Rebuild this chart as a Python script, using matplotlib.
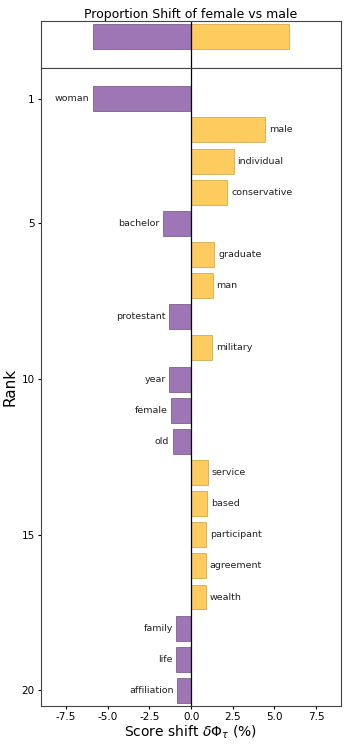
import matplotlib
matplotlib.use('Agg')
import matplotlib.pyplot as plt
import numpy as np

plt.rcParams['axes.unicode_minus'] = False

# words ranked by score shift (negative = female, positive = male)
words = ['woman', 'male', 'individual', 'conservative', 'bachelor', 'graduate', 'man',
         'protestant', 'military', 'year', 'female', 'old', 'service', 'based',
         'participant', 'agreement', 'wealth', 'family', 'life', 'affiliation']
shifts = [-5.90, 4.46, 2.56, 2.18, -1.66, 1.40, 1.30, -1.30, 1.28, -1.30, -1.20, -1.10,
          1.02, 0.98, 0.92, 0.90, 0.88, -0.88, -0.88, -0.84]
total_female = -5.90
total_male = 5.86

purple = '#9e76b5'
yellow = '#fdcb5e'
xmax = 9.0

fig = plt.figure(figsize=(3.49, 7.47), dpi=100)
ax_top = fig.add_axes([0.1175, 0.9094, 0.86, 0.0629])
ax = fig.add_axes([0.1175, 0.0549, 0.86, 0.8545])

# summary panel
ax_top.barh([0], [total_female], height=0.8, color=purple, edgecolor='#6e4f80', linewidth=0.5)
ax_top.barh([0], [total_male], height=0.8, color=yellow, edgecolor='#c9a040', linewidth=0.5)
ax_top.axvline(0, color='black', linewidth=0.9)
ax_top.set_xlim(-xmax, xmax)
ax_top.set_ylim(1.0, -0.5)
ax_top.set_xticks([])
ax_top.set_yticks([])
ax_top.set_title('Proportion Shift of female vs male', fontsize=9, pad=2)

# ranked words
ranks = np.arange(1, len(words) + 1)
colors = [purple if s < 0 else yellow for s in shifts]
edges = ['#6e4f80' if s < 0 else '#c9a040' for s in shifts]
ax.barh(ranks, shifts, height=0.8, color=colors, edgecolor=edges, linewidth=0.5)
ax.axvline(0, color='black', linewidth=0.9)
for r, s, w in zip(ranks, shifts, words):
    if s < 0:
        ax.text(s - 0.22, r, w, ha='right', va='center', fontsize=6.8, color='#222222')
    else:
        ax.text(s + 0.22, r, w, ha='left', va='center', fontsize=6.8, color='#222222')

ax.set_xlim(-xmax, xmax)
ax.set_ylim(20.5, 0)
ax.set_yticks([1, 5, 10, 15, 20])
ax.set_xticks([-7.5, -5.0, -2.5, 0.0, 2.5, 5.0, 7.5])
ax.tick_params(labelsize=7.5, length=2.5, pad=2)
ax.set_ylabel('Rank', fontsize=11, labelpad=3)
ax.set_xlabel(r'Score shift $\delta\Phi_\tau$ (%)', fontsize=10, labelpad=1)

for a in (ax, ax_top):
    for sp in a.spines.values():
        sp.set_color('#444444')

fig.savefig('out.png', dpi=100)
